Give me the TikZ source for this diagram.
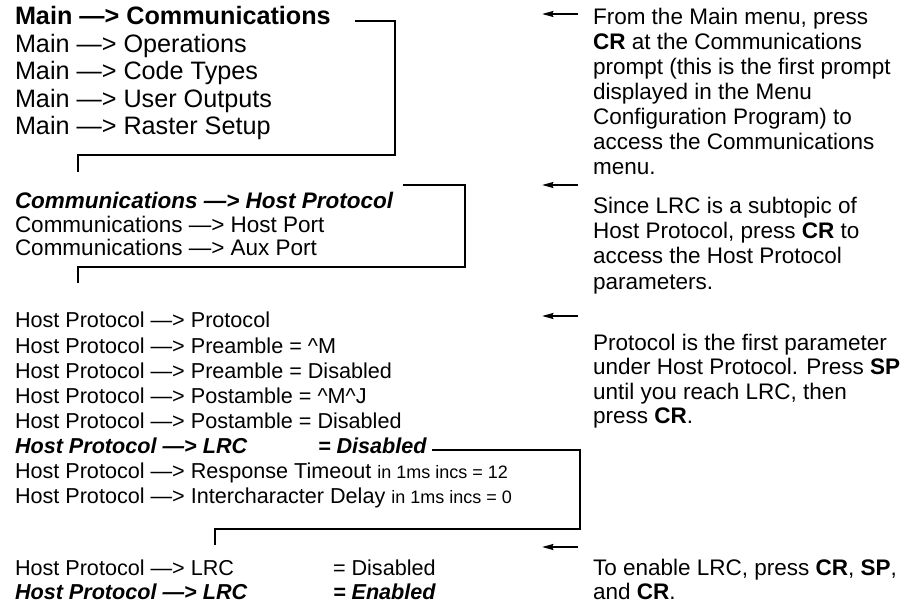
\documentclass[tikz,border=0pt]{standalone}
\usepackage{fontspec}
\setmainfont{Liberation Sans}
\usetikzlibrary{arrows.meta,calc}
\begin{document}
\begin{tikzpicture}[x=0.44444pt,y=-0.44444pt,
  txt/.style={anchor=base west,inner sep=0pt,outer sep=0pt,font=\fontsize{10}{12}\selectfont},
  hst/.style={txt,font=\fontsize{9.6}{11}\selectfont},
  big/.style={txt,font=\fontsize{11.2}{13}\selectfont},
  brk/.style={line width=0.5pt},
  arr/.style={line width=0.9pt,-{Stealth[length=5pt,width=2.6pt,inset=0.5pt]}}]
\newcommand{\sm}[1]{{\fontsize{8}{9}\selectfont #1}}
\newcommand{\bi}[1]{\textbf{\textit{#1}}}
\useasboundingbox (0,0) rectangle (900,605);
% ---------- Main menu ----------
\node[big] (m1) at (15,25)    {\textbf{Main —> Communications}};
\node[big] (m2) at (15,52.5)  {Main —> Operations};
\node[big] (m3) at (15,80)    {Main —> Code Types};
\node[big] (m4) at (15,107.5) {Main —> User Outputs};
\node[big] (m5) at (15,135)   {Main —> Raster Setup};
% ---------- Communications ----------
\node[txt] (c1) at (15,209)   {\bi{Communications —> Host Protocol}};
\node[txt] (c2) at (15,232.5) {Communications —> Host Port};
\node[txt] (c3) at (15,256)   {Communications —> Aux Port};
% ---------- Host Protocol ----------
\node[hst] (h1) at (15,328) {Host Protocol —> Protocol};
\node[hst] (h2) at (15,353) {Host Protocol —> Preamble = \textasciicircum{}M};
\node[hst] (h3) at (15,378) {Host Protocol —> Preamble = Disabled};
\node[hst] (h4) at (15,403) {Host Protocol —> Postamble = \textasciicircum{}M\textasciicircum{}J};
\node[hst] (h5) at (15,428) {Host Protocol —> Postamble = Disabled};
\node[hst] (h6) at (15,453) {\bi{Host Protocol —> LRC}};
\node[hst] (h6v) at (318,453) {\bi{= Disabled}};
\node[hst] (h7) at (15,478) {Host Protocol —> Response Timeout \sm{in 1ms incs = 12}};
\node[hst] (h8) at (15,503) {Host Protocol —> Intercharacter Delay \sm{in 1ms incs = 0}};
% ---------- LRC ----------
\node[hst] (l1) at (15,575) {Host Protocol —> LRC};
\node[hst] (l1v) at (333,575) {= Disabled};
\node[hst] (l2) at (15,599) {\bi{Host Protocol —> LRC}};
\node[hst] (l2v) at (333,599) {\bi{= Enabled}};
% ---------- brackets ----------
\coordinate (b1a) at (355,21);  \coordinate (b1b) at (395,21);
\coordinate (b1c) at (395,155); \coordinate (b1d) at (78,155);
\coordinate (b1e) at (78,172);
\draw[brk] (b1a) -- (b1b) -- (b1c) -- (b1d) -- (b1e);
\coordinate (b2a) at (403,185); \coordinate (b2b) at (465,185);
\coordinate (b2c) at (465,267); \coordinate (b2d) at (78,267);
\coordinate (b2e) at (78,283);
\draw[brk] (b2a) -- (b2b) -- (b2c) -- (b2d) -- (b2e);
\coordinate (b3a) at (432,450); \coordinate (b3b) at (580,450);
\coordinate (b3c) at (580,529); \coordinate (b3d) at (215,529);
\coordinate (b3e) at (215,545);
\draw[brk] (b3a) -- (b3b) -- (b3c) -- (b3d) -- (b3e);
% ---------- arrows ----------
\coordinate (a1s) at (578,14);  \coordinate (a1e) at (542,14);
\coordinate (a2s) at (578,185); \coordinate (a2e) at (542,185);
\coordinate (a3s) at (578,316); \coordinate (a3e) at (542,316);
\coordinate (a4s) at (578,547); \coordinate (a4e) at (542,547);
\draw[arr] (a1s) -- (a1e);
\draw[arr] (a2s) -- (a2e);
\draw[arr] (a3s) -- (a3e);
\draw[arr] (a4s) -- (a4e);
% ---------- explanations ----------
\node[txt] (p11) at (593,25)  {From the Main menu, press};
\node[txt] (p12) at (593,50)  {\textbf{CR} at the Communications};
\node[txt] (p13) at (593,75)  {prompt (this is the first prompt};
\node[txt] (p14) at (593,100) {displayed in the Menu};
\node[txt] (p15) at (593,125) {Configuration Program) to};
\node[txt] (p16) at (593,150) {access the Communications};
\node[txt] (p17) at (593,175) {menu.};
\node[txt] (p21) at (593,214) {Since LRC is a subtopic of};
\node[txt] (p22) at (593,239) {Host Protocol, press \textbf{CR} to};
\node[txt] (p23) at (593,264) {access the Host Protocol};
\node[txt] (p24) at (593,289) {parameters.};
\node[txt] (p31) at (593,350)   {Protocol is the first parameter};
\node[txt] (p32) at (593,374.5) {under Host Protocol. Press \textbf{SP}};
\node[txt] (p33) at (593,399)   {until you reach LRC, then};
\node[txt] (p34) at (593,423.5) {press \textbf{CR}.};
\node[txt] (p41) at (593,575) {To enable LRC, press \textbf{CR}, \textbf{SP},};
\node[txt] (p42) at (593,599) {and \textbf{CR}.};
\end{tikzpicture}
\end{document}
